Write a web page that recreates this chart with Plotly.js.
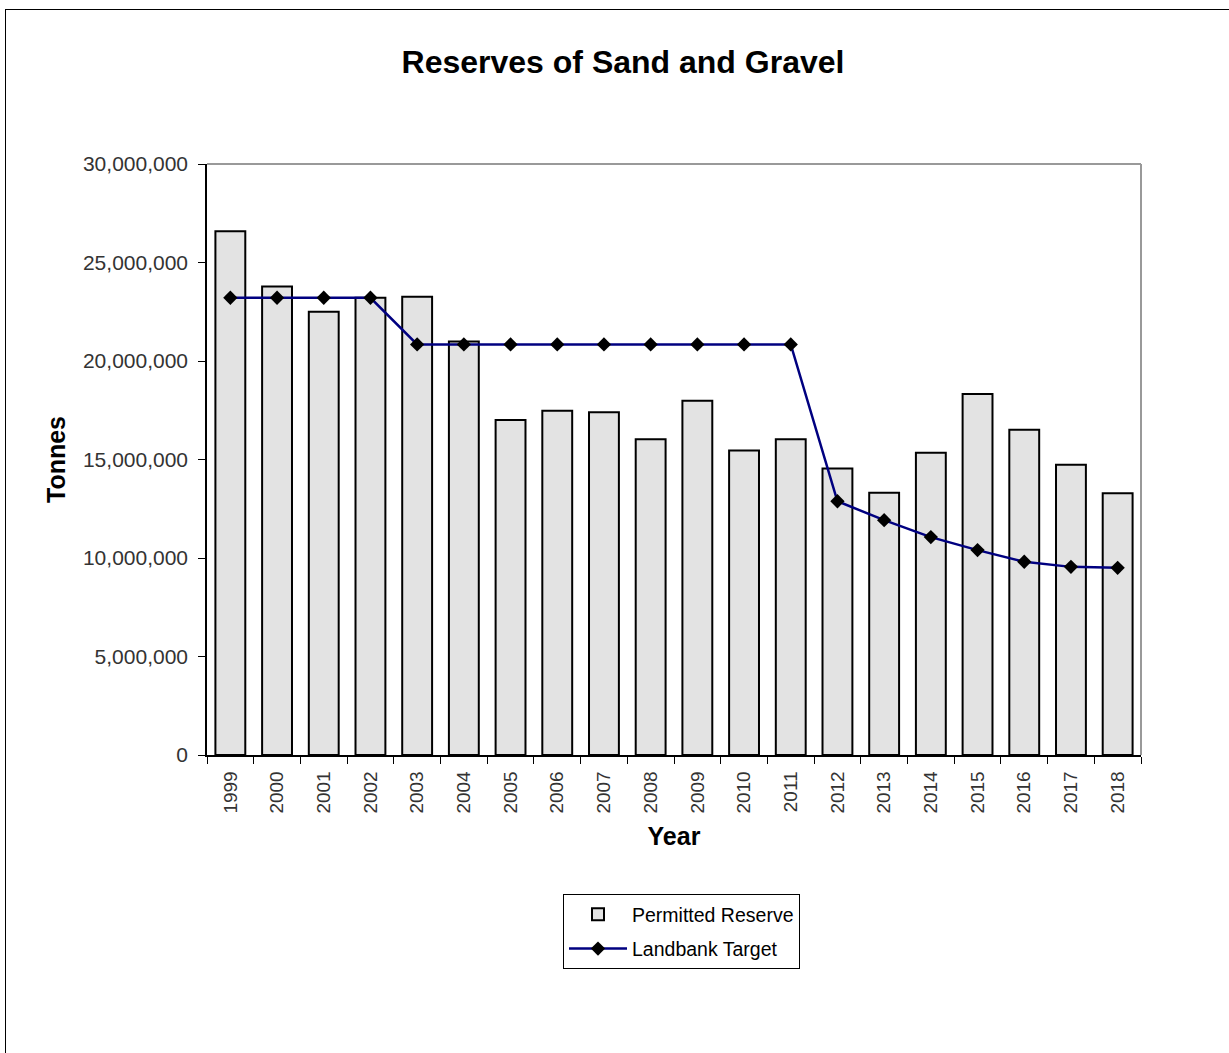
<!DOCTYPE html>
<html>
<head>
<meta charset="utf-8">
<script src="https://cdn.plot.ly/plotly-3.0.1.min.js"></script>
<style>
  html, body { margin: 0; padding: 0; background: #fff; }
  #frame { position: absolute; left: 5px; top: 9px; width: 1240px; height: 1060px; border: 1px solid #000; box-sizing: border-box; pointer-events: none; z-index: 5; }
  #chart { position: absolute; left: 0; top: 0; width: 1229px; height: 1053px; }
</style>
</head>
<body>
<div id="chart"></div>
<div id="frame"></div>
<script>
const years = ['1999','2000','2001','2002','2003','2004','2005','2006','2007','2008','2009','2010','2011','2012','2013','2014','2015','2016','2017','2018'];
const permittedReserve = [26590000, 23780000, 22500000, 23210000, 23260000, 20990000, 17010000, 17470000, 17400000, 16030000, 17980000, 15460000, 16030000, 14540000, 13310000, 15340000, 18330000, 16510000, 14730000, 13290000];
const landbankTarget = [23210000, 23210000, 23210000, 23210000, 20840000, 20840000, 20840000, 20840000, 20840000, 20840000, 20840000, 20840000, 20840000, 12880000, 11920000, 11060000, 10400000, 9810000, 9550000, 9500000];

const FONT = 'Liberation Sans, Arial, sans-serif';

const traces = [
  {
    type: 'bar', name: 'Permitted Reserve', x: years, y: permittedReserve,
    marker: { color: '#e3e3e3', line: { color: '#000', width: 2 } },
    legendgroup: 'a', hoverinfo: 'x+y'
  },
  {
    type: 'scatter', mode: 'lines+markers', name: 'Landbank Target', x: years, y: landbankTarget,
    line: { color: '#000080', width: 2.5 },
    marker: { symbol: 'diamond', color: '#000', size: 11 },
    legendgroup: 'b'
  }
];

const layout = {
  width: 1229, height: 1053,
  margin: { l: 207, r: 88, t: 164, b: 298 },
  paper_bgcolor: '#fff', plot_bgcolor: '#fff',
  font: { family: FONT, color: '#222', size: 19 },
  title: {
    text: '<b>Reserves of Sand and Gravel</b>',
    font: { family: FONT, size: 32, color: '#000' },
    x: 623/1229, xref: 'container', xanchor: 'center',
    y: 1 - 62/1053, yref: 'container', yanchor: 'middle'
  },
  bargap: 0.36,
  showlegend: true,
  legend: {
    x: (563-207)/934, xanchor: 'left', y: (755-894)/591, yanchor: 'top',
    bordercolor: '#000', borderwidth: 1, bgcolor: '#fff',
    font: { family: FONT, size: 19.5, color: '#000' },
    traceorder: 'grouped', tracegroupgap: 6, itemwidth: 58
  },
  xaxis: {
    type: 'category', range: [-0.5, 19.5], autorange: false,
    showline: true, linecolor: '#000', linewidth: 1.5,
    ticks: 'outside', tickson: 'boundaries', ticklen: 7, tickcolor: '#000', tickwidth: 1,
    tickangle: -90, tickfont: { family: FONT, size: 19, color: '#333' }, ticklabelstandoff: 7,
    showgrid: false, zeroline: false,
    title: { text: '<b>Year</b>', font: { family: FONT, size: 25, color: '#000' }, standoff: 15 }
  },
  yaxis: {
    range: [0, 30000000], autorange: false,
    tickvals: [0, 5000000, 10000000, 15000000, 20000000, 25000000, 30000000],
    tickformat: ',d', showline: true, linecolor: '#000', linewidth: 1.5,
    ticks: 'outside', ticklen: 7, tickcolor: '#000', tickwidth: 1,
    tickfont: { family: FONT, size: 21, color: '#333' }, ticklabelstandoff: 6,
    showgrid: false, zeroline: false,
    title: { text: '<b>Tonnes</b>', font: { family: FONT, size: 25, color: '#000' }, standoff: 10 }
  },
  shapes: [
    { type: 'line', xref: 'paper', yref: 'paper', x0: 0, x1: 1, y0: 1, y1: 1, line: { color: '#999', width: 2 } },
    { type: 'line', xref: 'paper', yref: 'paper', x0: 1, x1: 1, y0: 0, y1: 1, line: { color: '#999', width: 2 } }
  ]
};

Plotly.newPlot('chart', traces, layout, { displayModeBar: false, responsive: false });
</script>
</body>
</html>
